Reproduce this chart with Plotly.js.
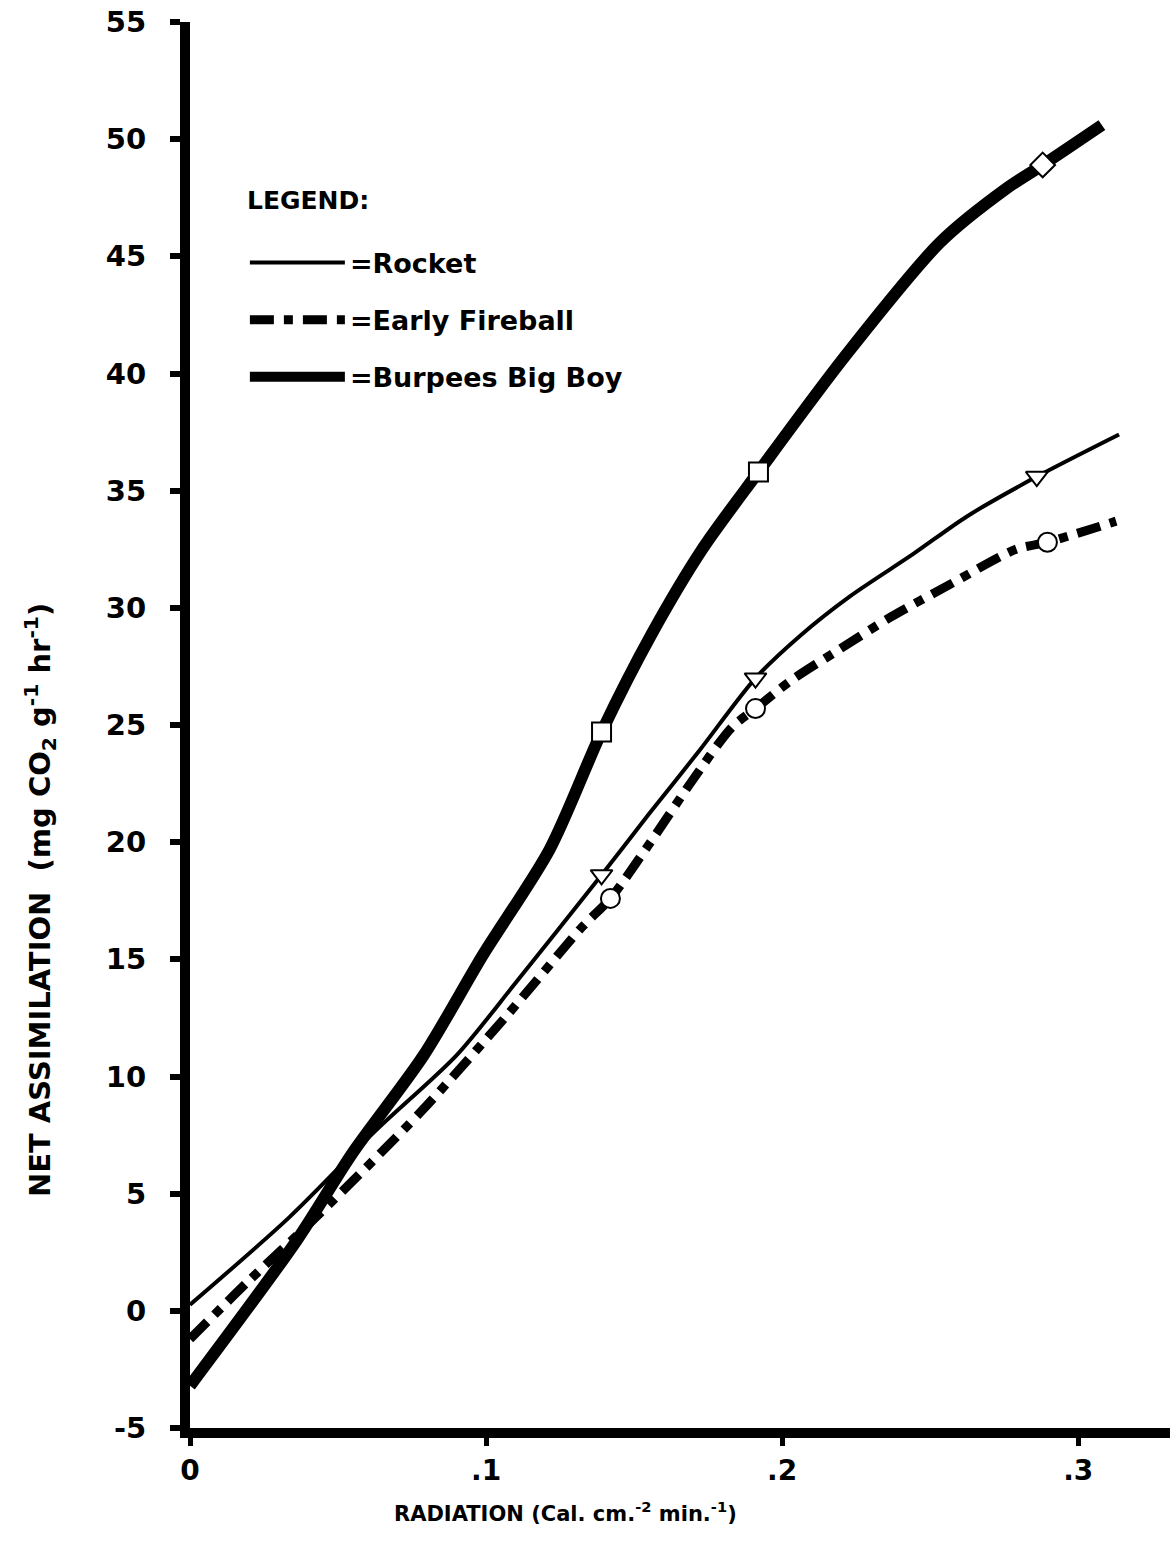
<!DOCTYPE html>
<html><head><meta charset="utf-8">
<script src="https://cdn.plot.ly/plotly-3.0.1.min.js"></script>
<style>html,body{margin:0;padding:0;background:#fff}#chart{width:1170px;height:1551px}</style>
</head><body><div id="chart"></div>
<script>
// Curve points
const rocketX = [0, 0.0336, 0.0628, 0.090, 0.110, 0.139, 0.155, 0.172, 0.191, 0.206, 0.223, 0.2443, 0.2624, 0.286, 0.3138];
const rocketY = [0.26, 4.0, 7.7, 10.9, 14.0, 18.6, 21.2, 23.9, 27.0, 28.8, 30.5, 32.3, 33.9, 35.6, 37.4];
const fireX = [0, 0.020, 0.0426, 0.078, 0.107, 0.1326, 0.142, 0.155, 0.1695, 0.183, 0.191, 0.203, 0.219, 0.2366, 0.2567, 0.279, 0.2896, 0.3128];
const fireY = [-1.2, 1.3, 4.0, 8.5, 12.6, 16.4, 17.6, 19.9, 22.6, 24.9, 25.7, 26.9, 28.2, 29.6, 31.0, 32.5, 32.8, 33.7];
const bigboyX = [0, 0.036, 0.0547, 0.0789, 0.099, 0.1215, 0.139, 0.156, 0.173, 0.192, 0.221, 0.2534, 0.2758, 0.288, 0.308];
const bigboyY = [-3.2, 3.0, 6.7, 10.9, 15.2, 19.7, 24.7, 28.9, 32.5, 35.8, 40.7, 45.6, 47.9, 48.9, 50.6];
// Plotted (marked) observations
const rocketMarkX = [0.139, 0.191, 0.286];
const rocketMarkY = [18.6, 27.0, 35.6];
const fireMarkX = [0.142, 0.191, 0.2896];
const fireMarkY = [17.6, 25.7, 32.8];
const bigboyMarkX = [0.139, 0.192, 0.288];
const bigboyMarkY = [24.7, 35.8, 48.9];
const bigboySymbols = ['square', 'square', 'diamond'];
const seriesNames = ['=Rocket', '=Early Fireball', '=Burpees Big Boy'];
const xTickVals = [0, 0.1, 0.2, 0.3];
const xTickText = ['0', '.1', '.2', '.3'];
const yTickVals = [-5, 0, 5, 10, 15, 20, 25, 30, 35, 40, 45, 50, 55];
const yTickText = ['-5', '0', '5', '10', '15', '20', '25', '30', '35', '40', '45', '50', '55'];

const FONT = '"DejaVu Sans", sans-serif';
const traces = [
  {x: rocketX, y: rocketY, mode: 'lines', name: seriesNames[0], legendgroup: 'a',
   line: {color: '#000', width: 4, shape: 'spline', smoothing: 0.8}},
  {x: fireX, y: fireY, mode: 'lines', name: seriesNames[1], legendgroup: 'b',
   line: {color: '#000', width: 9, dash: '24px,10px,9px,10px', shape: 'spline', smoothing: 0.8}},
  {x: bigboyX, y: bigboyY, mode: 'lines', name: seriesNames[2], legendgroup: 'c',
   line: {color: '#000', width: 12, shape: 'spline', smoothing: 0.8}},
  {x: rocketMarkX, y: rocketMarkY, mode: 'markers', showlegend: false,
   marker: {symbol: 'triangle-down', size: 19, color: '#fff', line: {color: '#000', width: 2}}},
  {x: fireMarkX, y: fireMarkY, mode: 'markers', showlegend: false,
   marker: {symbol: 'circle', size: 19, color: '#fff', line: {color: '#000', width: 2}}},
  {x: bigboyMarkX, y: bigboyMarkY, mode: 'markers', showlegend: false,
   marker: {symbol: bigboySymbols, size: 19, color: '#fff', line: {color: '#000', width: 2}}}
];

const layout = {
  width: 1170, height: 1551,
  margin: {l: 190, r: 0, t: 22, b: 123},
  paper_bgcolor: '#fff', plot_bgcolor: '#fff',
  font: {family: FONT, color: '#000', size: 28, weight: 'bold'},
  showlegend: true,
  legend: {
    x: 0.056, y: 0.846, xanchor: 'left', yanchor: 'top',
    bgcolor: 'rgba(0,0,0,0)', borderwidth: 0,
    font: {family: FONT, size: 27, color: '#000', weight: 'bold'},
    tracegroupgap: 19, itemwidth: 95
  },
  xaxis: {
    range: [0, 0.331], showgrid: false, zeroline: false,
    showline: true, linewidth: 10, linecolor: '#000',
    ticks: 'outside', ticklen: 8, tickwidth: 5, tickcolor: '#000',
    tickvals: xTickVals, ticktext: xTickText,
    tickfont: {family: FONT, size: 28, weight: 'bold'}
  },
  yaxis: {
    range: [-5, 55], showgrid: false, zeroline: false,
    showline: true, linewidth: 10, linecolor: '#000',
    ticks: 'outside', ticklen: 10, tickwidth: 6, tickcolor: '#000',
    tickvals: yTickVals, ticktext: yTickText, ticklabelstandoff: 18,
    tickfont: {family: FONT, size: 29, weight: 'bold'}
  },
  annotations: [
    {xref: 'paper', yref: 'paper', x: 0.056, y: 0.873, xanchor: 'left', yanchor: 'middle',
     showarrow: false, text: 'LEGEND:',
     font: {family: FONT, size: 25, weight: 'bold'}},
    {xref: 'paper', yref: 'paper', x: -0.153, y: 0.3755, xanchor: 'center', yanchor: 'middle',
     textangle: -90, showarrow: false,
     text: 'NET ASSIMILATION  (mg CO<sub>2</sub> g<sup>-1</sup> hr<sup>-1</sup>)',
     font: {family: FONT, size: 29, weight: 'bold'}},
    {xref: 'paper', yref: 'paper', x: 0.383, y: -0.0597, xanchor: 'center', yanchor: 'middle',
     showarrow: false,
     text: 'RADIATION (Cal. cm.<sup>-2</sup> min.<sup>-1</sup>)',
     font: {family: FONT, size: 21, weight: 'bold'}}
  ]
};
Plotly.newPlot('chart', traces, layout, {staticPlot: true});
</script></body></html>
